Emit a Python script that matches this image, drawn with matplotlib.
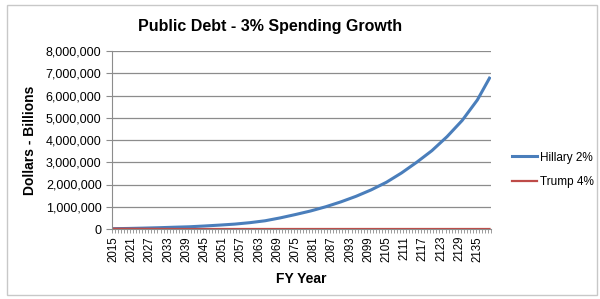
import matplotlib.pyplot as plt
from matplotlib.ticker import FuncFormatter, MultipleLocator

# years and debt (billions of dollars)
years = [2015, 2020, 2025, 2030, 2035, 2040, 2045, 2050, 2055, 2060, 2065,
         2070, 2075, 2080, 2085, 2090, 2095, 2100, 2105, 2110, 2115, 2120,
         2125, 2130, 2135, 2139]
hillary = [14000, 25000, 40000, 58000, 80000, 100000, 135000, 175000,
           220000, 285000, 370000, 500000, 650000, 810000, 1000000, 1220000,
           1470000, 1760000, 2100000, 2520000, 3000000, 3520000, 4150000,
           4880000, 5800000, 6780000]
trump = [14000, 12000, 9000, 5000, 1000, 0, 0, 0, 0, 0, 0, 0, 0, 0, 0, 0,
         0, 0, 0, 0, 0, 0, 0, 0, 0, 0]

tick_years = [2015, 2021, 2027, 2033, 2039, 2045, 2051, 2057, 2063, 2069,
              2075, 2081, 2087, 2093, 2099, 2105, 2111, 2117, 2123, 2129, 2135]

plt.rcParams['font.family'] = ['Liberation Sans', 'DejaVu Sans']

fig = plt.figure(figsize=(6, 2.99), dpi=100)
ax = fig.add_axes([112 / 600, 1 - 229 / 299, (491 - 112) / 600, (229 - 51) / 299])

# chart border
fig.patches.append(plt.Rectangle((7 / 600, 4 / 299), 590 / 600, 290 / 299,
                                 transform=fig.transFigure, fill=False,
                                 edgecolor='#c8c8c8', lw=1))

ax.plot(years, hillary, color='#4a7ebb', lw=2.2, label='Hillary 2%')
ax.plot(years, trump, color='#be4b48', lw=1.6, label='Trump 4%')

ax.set_xlim(2014.5, 2139.5)
ax.set_ylim(0, 8000000)
ax.yaxis.set_major_locator(MultipleLocator(1000000))
ax.yaxis.set_major_formatter(FuncFormatter(lambda v, p: f'{int(v):,}'))
ax.grid(axis='y', color='#8c8c8c', lw=0.9)
ax.set_axisbelow(True)

ax.set_xticks(tick_years)
ax.set_xticklabels([str(y) for y in tick_years], rotation=90, fontsize=8.3)
ax.set_xticks([y + 0.5 for y in range(2014, 2140)], minor=True)
ax.tick_params(axis='x', which='major', length=0, pad=5)
ax.tick_params(axis='x', which='minor', length=3, color='#8c8c8c', width=0.6)
ax.tick_params(axis='y', length=4, color='#8c8c8c', labelsize=9)

for s in ['top', 'right']:
    ax.spines[s].set_visible(False)
for s in ['left', 'bottom']:
    ax.spines[s].set_color('#8c8c8c')

ax.set_xlabel('FY Year', fontsize=10, fontweight='bold', labelpad=7)
ax.set_ylabel('Dollars - Billions', fontsize=10, fontweight='bold', labelpad=6)
fig.text(270 / 600, 1 - 26 / 299, 'Public Debt - 3% Spending Growth',
         ha='center', va='center', fontsize=11.5, fontweight='bold')

ax.legend(loc='center left', bbox_to_anchor=(512 / 600, 1 - 170 / 299),
          bbox_transform=fig.transFigure, frameon=False, fontsize=8.5,
          handlelength=2.1, handletextpad=0.3, labelspacing=1.1,
          borderpad=0, borderaxespad=0)

fig.savefig('out.png', dpi=100, facecolor='white')
